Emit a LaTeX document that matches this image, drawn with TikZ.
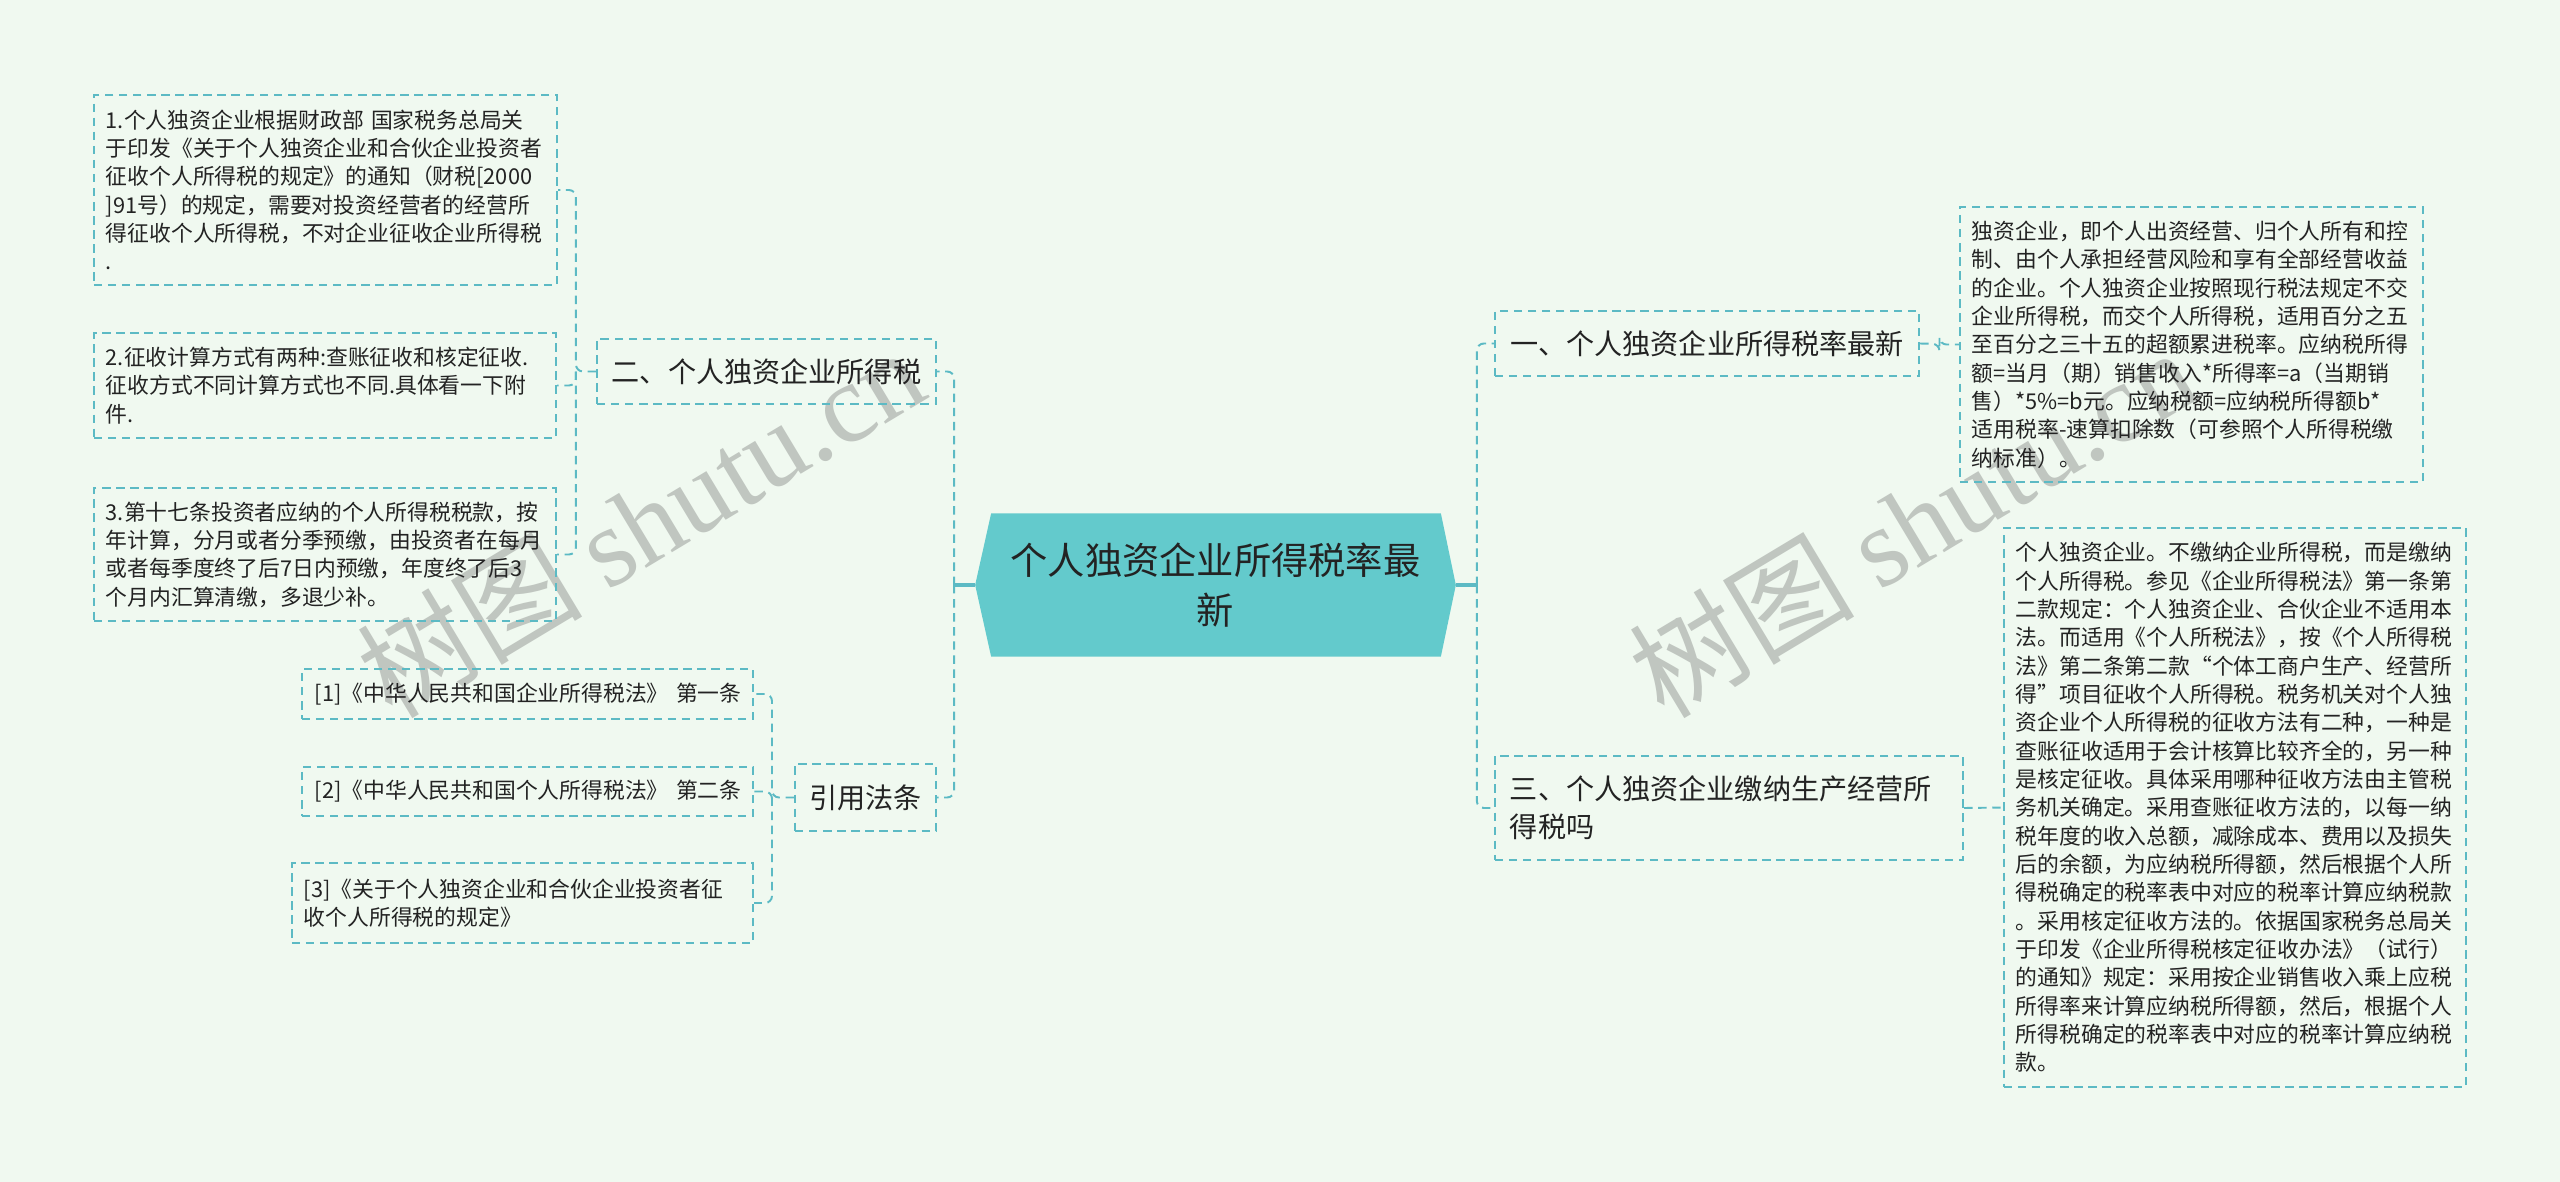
\documentclass[tikz,border=0pt]{standalone}
\usepackage{fontspec}
\setmainfont{Noto Sans CJK SC}
\newfontfamily\wmfont{Liberation Serif}
\newfontfamily\wmcjk{Noto Sans CJK SC}
\usetikzlibrary{backgrounds,calc}
\definecolor{bgc}{RGB}{240,249,240}
\definecolor{lnc}{RGB}{92,186,196}
\definecolor{ctrc}{RGB}{99,202,204}
\definecolor{txtc}{RGB}{35,35,35}
\definecolor{wmc}{RGB}{192,198,192}
\tikzset{
  box/.style={draw=lnc, line width=0.55pt, dash pattern=on 2.4pt off 1.6pt, text=txtc, inner sep=0pt, align=left},
  small/.style={font=\fontsize{6.2pt}{8.06pt}\selectfont},
  mid/.style={font=\fontsize{8pt}{10.8pt}\selectfont},
  conn/.style={draw=lnc, line width=0.55pt, dash pattern=on 2.4pt off 1.6pt, rounded corners=2pt},
  stub/.style={draw=lnc, line width=0.9pt},
  wm/.style={text=wmc, rotate=31, inner sep=0pt}
}
\begin{document}
\begin{tikzpicture}[x=0.01cm,y=-0.01cm]
\useasboundingbox (0,0) rectangle (2560,1182);
% central topic
\node[text=txtc, minimum width=4.79cm, minimum height=1.42cm, inner sep=0pt, align=center, font=\fontsize{10.6pt}{14.2pt}\selectfont] (ctr) at (1215.5,585) {个人独资企业所得税率最\\新};
% left branch
\node[box, mid, minimum width=3.39cm, minimum height=0.65cm, align=center] (n2) at (766.5,371.5) {二、个人独资企业所得税};
\node[box, mid, minimum width=1.41cm, minimum height=0.67cm, align=center] (cite) at (865.5,797.5) {引用法条};
\node[box, small, minimum width=4.63cm, minimum height=1.90cm, text width=4.39cm] (t1) at (325.5,190) {1.个人独资企业根据财政部~国家税务总局关\\于印发《关于个人独资企业和合伙企业投资者\\征收个人所得税的规定》的通知（财税[2000\\]91号）的规定，需要对投资经营者的经营所\\得征收个人所得税，不对企业征收企业所得税\\.};
\node[box, small, minimum width=4.62cm, minimum height=1.05cm, text width=4.38cm] (t2) at (325,385.5) {2.征收计算方式有两种:查账征收和核定征收.\\征收方式不同计算方式也不同.具体看一下附\\件.};
\node[box, small, minimum width=4.62cm, minimum height=1.33cm, text width=4.38cm] (t3) at (325,554.5) {3.第十七条投资者应纳的个人所得税税款，按\\年计算，分月或者分季预缴，由投资者在每月\\或者每季度终了后7日内预缴，年度终了后3\\个月内汇算清缴，多退少补。};
\node[box, small, minimum width=4.51cm, minimum height=0.50cm, text width=4.25cm] (c1) at (527.5,694) {[1]《中华人民共和国企业所得税法》~第一条};
\node[box, small, minimum width=4.51cm, minimum height=0.49cm, text width=4.25cm] (c2) at (527.5,791.5) {[2]《中华人民共和国个人所得税法》~第二条};
\node[box, small, minimum width=4.61cm, minimum height=0.80cm, text width=4.37cm] (c3) at (522.5,903) {[3]《关于个人独资企业和合伙企业投资者征\\收个人所得税的规定》};
% right branch
\node[box, mid, minimum width=4.24cm, minimum height=0.65cm, align=center] (r1) at (1707,343.5) {一、个人独资企业所得税率最新};
\node[box, mid, minimum width=4.68cm, minimum height=1.04cm, text width=4.38cm] (r3) at (1729,808) {三、个人独资企业缴纳生产经营所\\得税吗};
\node[box, small, minimum width=4.63cm, minimum height=2.75cm, text width=4.39cm] (d1) at (2191.5,344.5) {独资企业，即个人出资经营、归个人所有和控\\制、由个人承担经营风险和享有全部经营收益\\的企业。个人独资企业按照现行税法规定不交\\企业所得税，而交个人所得税，适用百分之五\\至百分之三十五的超额累进税率。应纳税所得\\额=当月（期）销售收入*所得率=a（当期销\\售）*5\%=b元。应纳税额=应纳税所得额b*\\适用税率-速算扣除数（可参照个人所得税缴\\纳标准）。};
\node[box, small, minimum width=4.62cm, minimum height=5.59cm, text width=4.38cm] (d3) at (2235,807.5) {个人独资企业。不缴纳企业所得税，而是缴纳\\个人所得税。参见《企业所得税法》第一条第\\二款规定：个人独资企业、合伙企业不适用本\\法。而适用《个人所税法》，按《个人所得税\\法》第二条第二款“个体工商户生产、经营所\\得”项目征收个人所得税。税务机关对个人独\\资企业个人所得税的征收方法有二种，一种是\\查账征收适用于会计核算比较齐全的，另一种\\是核定征收。具体采用哪种征收方法由主管税\\务机关确定。采用查账征收方法的，以每一纳\\税年度的收入总额，减除成本、费用以及损失\\后的余额，为应纳税所得额，然后根据个人所\\得税确定的税率表中对应的税率计算应纳税款\\。采用核定征收方法的。依据国家税务总局关\\于印发《企业所得税核定征收办法》（试行）\\的通知》规定：采用按企业销售收入乘上应税\\所得率来计算应纳税所得额，然后，根据个人\\所得税确定的税率表中对应的税率计算应纳税\\款。};
% connectors
\coordinate (bl) at ($(ctr.west)+(-21,0)$);
\coordinate (br) at ($(ctr.east)+(21,0)$);
\draw[stub] (ctr.west) -- (bl);
\draw[stub] (ctr.east) -- (br);
\draw[conn] (bl) |- (n2.east);
\draw[conn] (bl) |- (cite.east);
\draw[conn] (br) |- (r1.west);
\draw[conn] (br) |- (r3.west);
\coordinate (bn2) at ($(n2.west)+(-20,0)$);
\draw[conn] (n2.west) -- (bn2) |- (t1.east);
\draw[conn] (bn2) |- (t2.east);
\draw[conn] (bn2) |- (t3.east);
\coordinate (bci) at ($(cite.west)+(-22,0)$);
\draw[conn] (cite.west) -- (bci) |- (c1.east);
\draw[conn] (bci) |- (c2.east);
\draw[conn] (bci) |- (c3.east);
\draw[conn] (r1.east) -- ($(r1.east)!0.5!(d1.west)$) |- (d1.west);
\draw[conn] (r3.east) -- (d3.west);
% background, watermark, central shape
\begin{scope}[on background layer]
\fill[bgc] (0,0) rectangle (2560,1182);
\node[wm] (wm1) at (640,522) {\fontsize{32pt}{32pt}\selectfont\wmcjk 树图 \wmfont shutu.cn};
\node[wm] (wm2) at (1912,522) {\fontsize{32pt}{32pt}\selectfont\wmcjk 树图 \wmfont shutu.cn};
\fill[ctrc] ($(ctr.north west)+(16,0)$) -- ($(ctr.north east)+(-15,0)$) -- (ctr.east) -- ($(ctr.south east)+(-15,0)$) -- ($(ctr.south west)+(16,0)$) -- (ctr.west) -- cycle;
\end{scope}
\end{tikzpicture}
\end{document}
